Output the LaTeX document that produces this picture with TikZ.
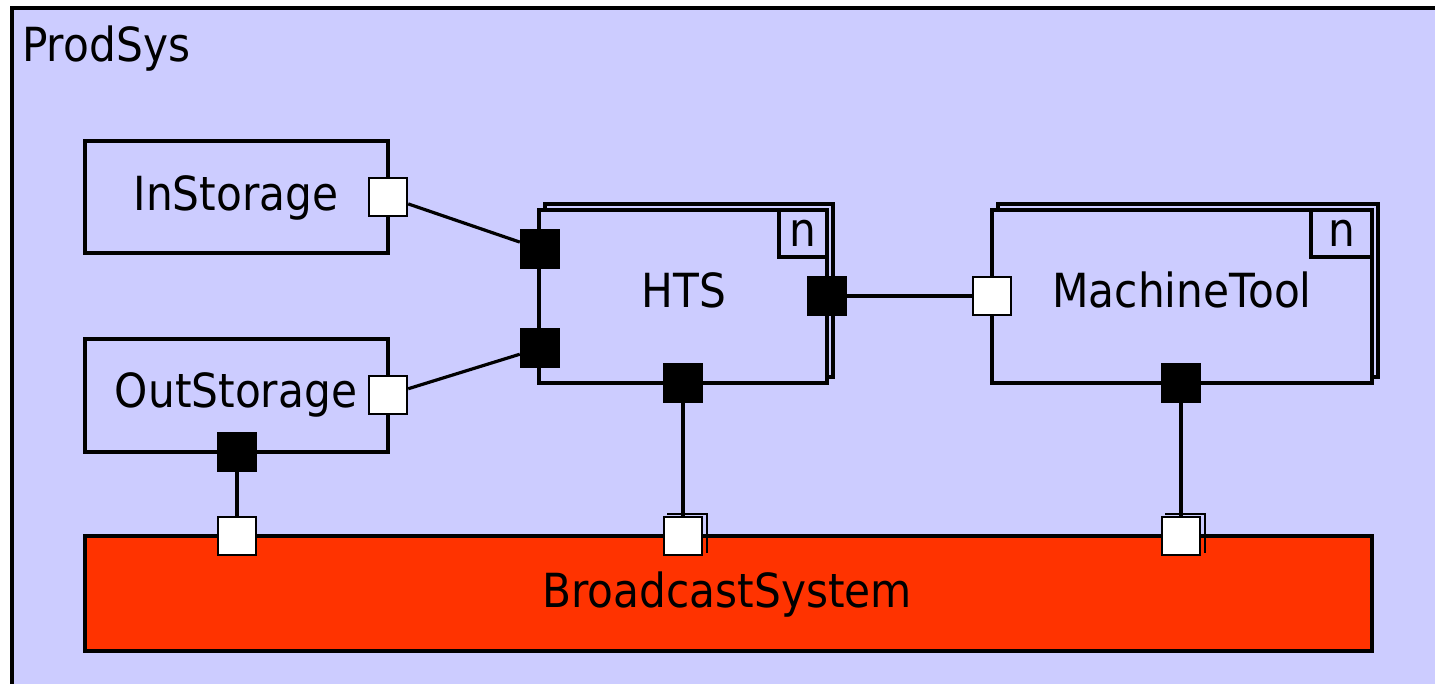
\documentclass[tikz,border=0pt]{standalone}
\usepackage{fontspec}
\setmainfont{DejaVu Sans}[FakeStretch=0.9]
\definecolor{lav}{HTML}{CCCCFF}
\definecolor{bred}{HTML}{FF3300}
\begin{document}
\begin{tikzpicture}[x=1pt,y=-1pt,
  box/.style={draw,line width=3.2pt,fill=lav,rectangle,inner sep=0pt},
  shadowbox/.style={draw,line width=3.2pt},
  port/.style={draw,line width=2.4pt,minimum size=38pt,inner sep=0pt,rectangle},
  inport/.style={port,fill=white},
  outport/.style={port,fill=black},
  lbl/.style={anchor=base,inner sep=0pt,font=\fontsize{47}{56}\selectfont},
  wire/.style={line width=3.2pt}]
\useasboundingbox (0,0) rectangle (1435,684);
\fill[white] (0,0) rectangle (1435,684);
% outer frame
\fill[lav] (12,8) rectangle (1440,690);
\draw[line width=3.5pt] (12,690) -- (12,8) -- (1440,8);
\node[lbl,anchor=base west] (prodsys) at (22,62) {ProdSys};

% InStorage / OutStorage
\node[box,minimum width=303pt,minimum height=112pt] (in) at (236.5,197) {};
\node[lbl] (inlbl) at (236,211) {InStorage};
\node[box,minimum width=303pt,minimum height=113pt] (out) at (236.5,395.5) {};
\node[lbl] (outlbl) at (236,408) {OutStorage};

% HTS (multiple)
\draw[shadowbox] (545,204) rectangle (833,377);
\node[box,minimum width=288pt,minimum height=173pt] (hts) at (683,296.5) {};
\node[draw,line width=3.2pt,minimum width=48pt,minimum height=47pt,inner sep=0pt,anchor=north east] (htsn) at (hts.north east) {};
\node[lbl] (htsnl) at (803,247) {n};
\node[lbl] (htslbl) at (684,308) {HTS};

% MachineTool (multiple)
\draw[shadowbox] (998,204) rectangle (1378,377);
\node[box,minimum width=380pt,minimum height=173pt] (mt) at (1182,296.5) {};
\node[draw,line width=3.2pt,minimum width=61pt,minimum height=47pt,inner sep=0pt,anchor=north east] (mtn) at (mt.north east) {};
\node[lbl] (mtnl) at (1341.5,247) {n};
\node[lbl] (mtlbl) at (1182,308) {MachineTool};

% BroadcastSystem
\node[draw,line width=3.5pt,fill=bred,minimum width=1287pt,minimum height=115pt,inner sep=0pt] (bc) at (728.5,593.5) {};
\node[lbl] (bclbl) at (727,607) {BroadcastSystem};

% ports
\node[inport] (inp) at (388,197) {};
\node[inport] (outp) at (388,395) {};
\node[outport] (outb) at (237,452) {};
\node[outport] (htsl1) at (540,249) {};
\node[outport] (htsl2) at (540,348) {};
\node[outport] (htsr) at (827,296) {};
\node[outport] (htsb) at (683,383) {};
\node[inport] (mtl) at (992,296) {};
\node[outport] (mtb) at (1181,383) {};

\node[inport] (bc1) at (237,536) {};
\draw[line width=2.4pt] (667,514) -- (707,514) -- (707,553);
\node[inport] (bc2) at (683,536) {};
\draw[line width=2.4pt] (1165,514) -- (1205,514) -- (1205,553);
\node[inport] (bc3) at (1181,536) {};

% connectors
\draw[wire] (inp) -- (htsl1);
\draw[wire] (outp) -- (htsl2);
\draw[wire] (htsr) -- (mtl);
\draw[wire] (outb) -- (bc1);
\draw[wire] (htsb) -- (bc2);
\draw[wire] (mtb) -- (bc3);
\end{tikzpicture}
\end{document}
